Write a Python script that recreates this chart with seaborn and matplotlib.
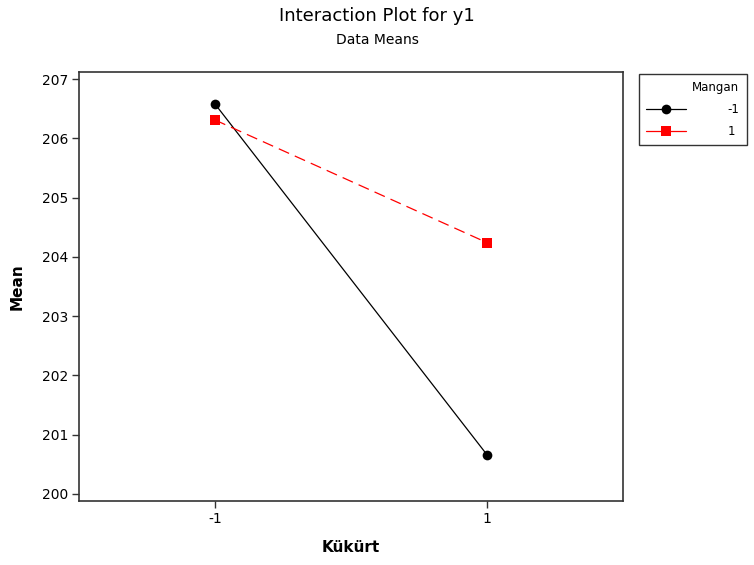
import numpy as np
import pandas as pd
import matplotlib
matplotlib.use("Agg")
import matplotlib.pyplot as plt
from matplotlib.lines import Line2D
import seaborn as sns

# factor levels and cell means
kukurt = [-1, 1]
mangan_levels = ["-1", "1"]
mean_mangan_neg = [206.58, 200.66]
mean_mangan_pos = [206.31, 204.24]
y_ticks = [200, 201, 202, 203, 204, 205, 206, 207]

df = pd.DataFrame({
    "Kükürt": kukurt * 2,
    "Mean": mean_mangan_neg + mean_mangan_pos,
    "Mangan": [mangan_levels[0]] * 2 + [mangan_levels[1]] * 2,
})

sns.set_theme(style="ticks")
plt.rcParams["font.family"] = ["DejaVu Sans"]
plt.rcParams["text.color"] = "black"
plt.rcParams["axes.labelcolor"] = "black"

colors = {"-1": "black", "1": "#ff0000"}
markers = {"-1": "o", "1": "s"}
dashes = {"-1": "", "1": (9, 5)}

fig = plt.figure(figsize=(7.54, 5.65), dpi=100)
ax = fig.add_axes([79 / 754, 1 - 501 / 565, (623 - 79) / 754, (501 - 72) / 565])

sns.lineplot(data=df, x="Kükürt", y="Mean", hue="Mangan", style="Mangan",
             palette=colors, markers=markers, dashes=dashes,
             markersize=7, markeredgewidth=0, linewidth=0.9, ax=ax, legend=False)

ax.set_xlim(-2, 2)
ax.set_ylim(199.88, 207.12)
ax.set_xticks(kukurt)
ax.set_xticklabels([str(k) for k in kukurt])
ax.set_yticks(y_ticks)
ax.tick_params(direction="out", length=5, width=1, colors="#333333",
               labelcolor="black", labelsize=10, pad=3)
for s in ax.spines.values():
    s.set_visible(True)
    s.set_color("#333333")
    s.set_linewidth(1.2)

ax.set_xlabel("Kükürt", fontsize=11, fontweight="bold", labelpad=10)
ax.set_ylabel("Mean", fontsize=11, fontweight="bold", labelpad=12)

fig.text(0.5, 1 - 16 / 565, "Interaction Plot for y1", ha="center", va="center", fontsize=13)
fig.text(0.5, 1 - 40 / 565, "Data Means", ha="center", va="center", fontsize=10)

handles = [Line2D([], [], color=colors[m], marker=markers[m], markersize=7,
                  markeredgewidth=0, linewidth=0.9)
           for m in mangan_levels]
leg = fig.legend(handles, mangan_levels, title="Mangan", loc="upper left",
                 bbox_to_anchor=(639 / 754, 1 - 74 / 565), borderaxespad=0,
                 fontsize=8.5, title_fontsize=8.5, frameon=True, fancybox=False,
                 edgecolor="black", handlelength=3.4, handletextpad=3.5,
                 borderpad=0.6, labelspacing=0.75, alignment="right")
leg.get_frame().set_linewidth(1.0)

fig.savefig("out.png", dpi=100)
